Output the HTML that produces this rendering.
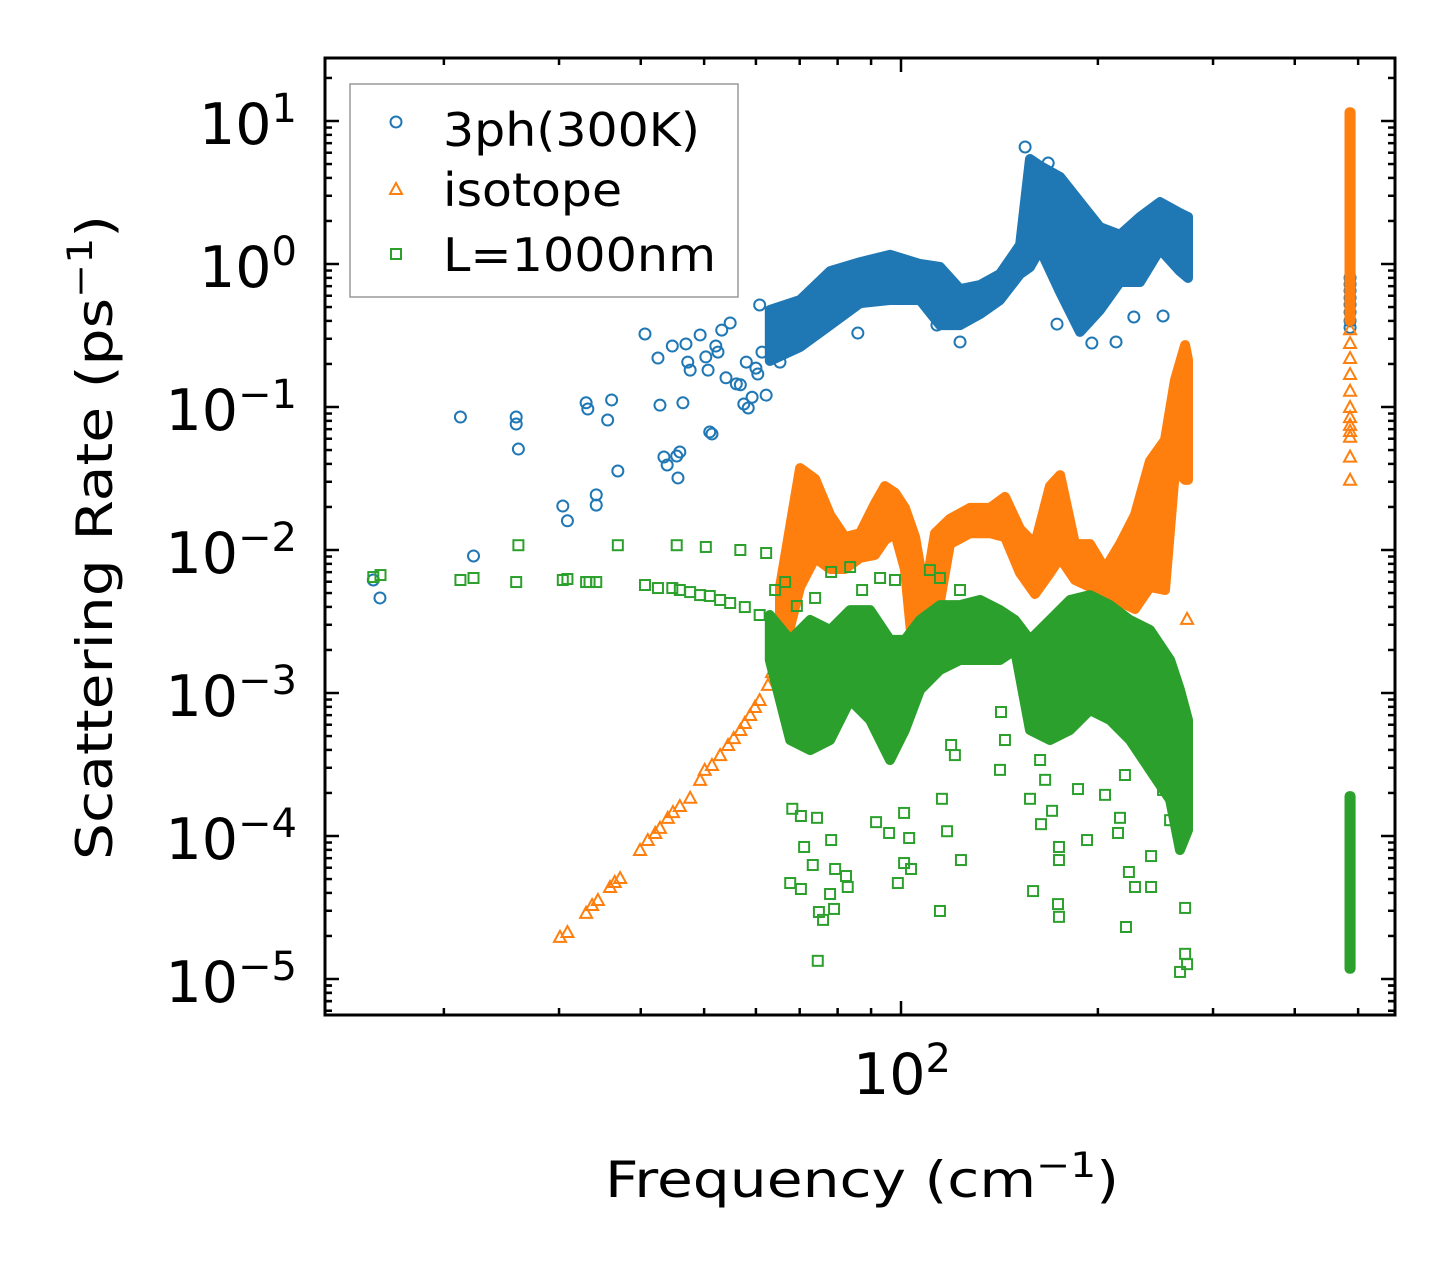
<!DOCTYPE html>
<html><head><meta charset="utf-8"><style>
html,body{margin:0;padding:0;background:#fff}
svg{display:block;font-family:"DejaVu Sans","Liberation Sans",sans-serif}
</style></head><body>
<svg id="chart" width="1455" height="1265" viewBox="0 0 1455 1265" xmlns="http://www.w3.org/2000/svg">
<rect width="1455" height="1265" fill="#fff"/>
<defs><clipPath id="clip"><rect x="325" y="58" width="1070" height="957"/></clipPath></defs>
<g id="plot" clip-path="url(#clip)"></g>
<g id="axes"></g>
<g id="legend">
  <rect x="350" y="84" width="388" height="213" fill="#fff" fill-opacity="0.8" stroke="#999" stroke-width="1.5"/>
  <g>
    <circle cx="396" cy="122" r="5.5" fill="none" stroke="#1f77b4" stroke-width="2"/>
    <text x="443" y="146" font-size="46" textLength="257" lengthAdjust="spacingAndGlyphs">3ph(300K)</text>
  </g>
  <g>
    <polygon points="396,183 402,194 390,194" fill="none" stroke="#ff7f0e" stroke-width="2"/>
    <text x="443" y="206" font-size="46" textLength="179" lengthAdjust="spacingAndGlyphs">isotope</text>
  </g>
  <g>
    <rect x="391" y="249" width="10" height="10" fill="none" stroke="#2ca02c" stroke-width="2"/>
    <text x="443" y="271" font-size="46" textLength="273" lengthAdjust="spacingAndGlyphs">L=1000nm</text>
  </g>
</g>
<text x="605" y="1197" font-size="50" textLength="514" lengthAdjust="spacingAndGlyphs">Frequency (cm<tspan dy="-20" font-size="35">−1</tspan><tspan dy="20">)</tspan></text>
<text transform="translate(112,860) rotate(-90)" font-size="50" textLength="645" lengthAdjust="spacingAndGlyphs">Scattering Rate (ps<tspan dy="-20" font-size="35">−1</tspan><tspan dy="20">)</tspan></text>
</svg>
<script>
// ---- data ----
const blueFreq = [15.6,15.97,21.2,22.2,25.8,25.8,26.0,30.4,30.9,33.0,33.2,34.2,34.2,35.6,36.1,36.9,40.6,42.5,42.8,43.4,43.9,44.7,45.4,45.6,45.9,46.4,46.9,47.2,47.6,49.3,50.3,50.7,51.0,51.4,52.1,52.5,53.2,54.0,54.8,56.0,56.8,57.5,58.0,58.4,59.2,60.0,60.4,61.3,62.2,60.8,65.3,65.3,67.6,70.1,73.1,75.2,78.4,85.9,83.6,89.7,99.7,113.5,114.7,123.1,189.1,195.8,213.2,227.0,173.2,187.8,251.6,154.8,161.4,167.9,486,486,486,486,486,486,486,486];
const blueVal = [0.00617,0.00462,0.0851,0.00908,0.0851,0.076,0.0508,0.0203,0.016,0.107,0.0968,0.0243,0.0206,0.0811,0.112,0.0357,0.324,0.22,0.103,0.0447,0.0393,0.267,0.0454,0.0319,0.0485,0.107,0.276,0.206,0.181,0.319,0.224,0.181,0.0669,0.0648,0.267,0.242,0.345,0.16,0.387,0.145,0.143,0.105,0.206,0.0984,0.117,0.187,0.17,0.242,0.121,0.517,0.206,0.406,0.462,0.28,0.329,0.412,0.508,0.329,0.908,0.658,0.578,0.374,0.419,0.285,0.647,0.28,0.285,0.426,0.38,0.374,0.433,6.58,4.77,5.08,0.8,0.72,0.65,0.58,0.52,0.46,0.4,0.36];
const blueBandFreq = [63.0,70.1,77.9,86.6,96.2,106.9,114.7,123.1,132.1,141.7,152.1,157.5,163.2,175.1,187.8,201.5,216.2,232.0,248.9,267.1,274.7];
const blueBandHi = [0.477,0.56,0.89,1.03,1.16,1.0,0.953,0.668,0.713,0.851,1.36,5.42,4.85,4.06,2.71,1.81,1.6,2.13,2.71,2.27,2.13];
const blueBandLo = [0.21,0.263,0.374,0.533,0.56,0.56,0.374,0.374,0.447,0.56,0.851,0.953,1.27,0.637,0.335,0.477,0.748,0.748,1.27,0.89,0.798];

const orangeFreq = [30.1,30.9,33.0,33.7,34.4,35.9,36.5,37.2,39.9,41.0,42.1,42.8,44.0,44.8,45.9,47.6,49.3,50.1,51.4,52.9,54.4,55.5,56.8,57.7,58.8,59.8,60.8,62.6,63.5,273.8,486,486,486,486,486,486,486,486,486,486,486,486];
const orangeVal = [0.0000197,0.0000213,0.000029,0.0000329,0.0000357,0.000044,0.0000477,0.0000508,0.0000798,0.0000937,0.000105,0.000114,0.000134,0.000147,0.000162,0.000185,0.000247,0.00029,0.000314,0.000368,0.000433,0.000484,0.000551,0.000617,0.000702,0.000798,0.000893,0.00114,0.0014,0.0033,0.35,0.28,0.22,0.17,0.13,0.1,0.085,0.075,0.068,0.062,0.045,0.031];
const orangeBandFreq = [65.3,70.1,73.9,77.9,82.1,86.6,91.2,94.5,97.9,101.4,105.1,108.8,112.7,118.8,127.5,136.8,144.2,152.1,160.3,169.0,175.1,184.5,194.5,205.1,216.2,227.9,240.3,253.3,262.4,271.9,274.7];
const orangeBandHi = [0.00551,0.0374,0.0314,0.0176,0.0123,0.0131,0.021,0.028,0.0251,0.0197,0.0123,0.00492,0.0131,0.0165,0.0197,0.0197,0.0235,0.014,0.011,0.028,0.0334,0.011,0.011,0.00736,0.011,0.0176,0.0419,0.0588,0.1545,0.271,0.213];
const orangeBandLo = [0.00152,0.00551,0.0088,0.00736,0.00736,0.0088,0.00923,0.0117,0.0131,0.00736,0.00136,0.00121,0.00276,0.011,0.0131,0.0131,0.0123,0.0069,0.00492,0.0069,0.0088,0.00617,0.00551,0.00492,0.00433,0.00387,0.00551,0.00525,0.0363,0.0309,0.0309];
const orangeColFreq = [485,487];
const orangeColHi = [11.5,11.5];
const orangeColLo = [0.4,0.4];

const greenFreq = [15.6,16.0,21.2,22.2,25.8,26.0,30.4,30.9,33.0,33.4,34.2,36.9,40.6,42.5,44.7,45.4,45.9,47.6,49.3,50.3,51.0,52.9,56.8,62.2,54.8,57.7,60.8,64.2,66.5,69.3,73.9,78.2,83.6,87.2,92.9,97.9,110.7,114.7,123.1,
68.2,70.3,74.4,71.1,73.3,78.2,79.3,82.4,82.9,67.7,70.3,77.9,74.9,79.0,74.6,76.0,91.6,95.9,101.1,102.9,103.6,98.9,101.1,115.5,117.6,114.7,123.5,142.2,157.5,163.7,170.2,174.4,174.4,159.2,173.8,174.4,192.5,186.5,216.2,214.7,223.1,227.9,220.8,241.2,241.2,271.9,271.9,273.8,267.1,271.9,120.9,119.3,144.2,141.7,166.1,163.2,205.1,220.0,251.6,257.9];
const greenVal = [0.00647,0.00668,0.00617,0.00637,0.00597,0.0108,0.00617,0.00627,0.00597,0.00597,0.00597,0.0108,0.00569,0.00542,0.00542,0.0108,0.00525,0.00508,0.00484,0.0105,0.00477,0.00447,0.01,0.00953,0.00426,0.00399,0.00351,0.00525,0.00597,0.00406,0.00462,0.00702,0.0076,0.00525,0.00637,0.00617,0.00724,0.00637,0.00525,
0.000155,0.000138,0.000134,0.0000838,0.0000627,0.0000937,0.0000588,0.0000525,0.000044,0.0000469,0.0000426,0.0000393,0.0000294,0.0000309,0.0000134,0.0000259,0.000125,0.000105,0.000145,0.0000968,0.0000588,0.0000469,0.0000647,0.000182,0.000108,0.0000299,0.0000679,0.000736,0.000182,0.000121,0.00015,0.0000838,0.0000679,0.0000412,0.0000334,0.0000272,0.0000937,0.000213,0.000134,0.000105,0.000056,0.000044,0.0000231,0.0000724,0.000044,0.0000314,0.000015,0.0000127,0.0000112,0.00011,0.000368,0.000433,0.000469,0.00029,0.000247,0.00034,0.000194,0.000267,0.00021,0.000129];
const greenBandFreq = [63.0,67.7,72.6,77.9,83.6,89.7,96.2,101.4,106.9,114.7,123.1,132.1,141.7,149.4,157.5,169.0,181.3,194.5,208.7,223.9,240.3,257.9,267.1,274.7];
const greenBandHi = [0.00351,0.00235,0.00324,0.00276,0.0038,0.0038,0.00235,0.00235,0.00324,0.00412,0.00412,0.00447,0.0038,0.00324,0.00235,0.00324,0.00447,0.00484,0.00412,0.00324,0.00276,0.0017,0.00105,0.000647];
const greenBandLo = [0.0017,0.000469,0.000399,0.000469,0.000893,0.000647,0.00034,0.000551,0.00105,0.00145,0.0017,0.0017,0.0017,0.002,0.000551,0.000469,0.000551,0.00076,0.000647,0.000469,0.00029,0.000179,0.0000798,0.00011];
const greenColFreq = [485,487];
const greenColHi = [0.00019,0.00019];
const greenColLo = [0.0000118,0.0000118];

const yTickExps = [1,0,-1,-2,-3,-4,-5];
const xMajorTicks = [100];
const xMinorTicks = [20,30,40,50,60,70,80,90,200,300,400,500];

// ---- scales ----
const X0=325,X1=1395,Y0=58,Y1=1015;
function sx(f){return 901+654*Math.log10(f/100);}
function sy(v){return 264-143*Math.log10(v);}
const NS="http://www.w3.org/2000/svg";
function mk(tag,attrs,parent){const e=document.createElementNS(NS,tag);for(const k in attrs)e.setAttribute(k,attrs[k]);parent.appendChild(e);return e;}
const plot=document.getElementById('plot');
const axes=document.getElementById('axes');

function band(fr,hi,lo,color,name){
  const pts=[];
  for(let i=0;i<fr.length;i++)pts.push(sx(fr[i]).toFixed(1)+','+sy(hi[i]).toFixed(1));
  for(let i=fr.length-1;i>=0;i--)pts.push(sx(fr[i]).toFixed(1)+','+sy(lo[i]).toFixed(1));
  const p=mk('polygon',{points:pts.join(' '),fill:color,stroke:color,'stroke-width':10,'stroke-linejoin':'round'},plot);
  
  
}
function markers(fr,vals,kind,color,name){
  const g=mk('g',{fill:'none',stroke:color,'stroke-width':2},plot);
  
  
  for(let i=0;i<fr.length;i++){
    const x=sx(fr[i]),y=sy(vals[i]);
    let m;
    if(kind==='o')m=mk('circle',{cx:x,cy:y,r:5.5},g);
    else if(kind==='^')m=mk('polygon',{points:`${x},${y-6} ${x+6},${y+5} ${x-6},${y+5}`},g);
    else m=mk('rect',{x:x-5,y:y-5,width:10,height:10},g);
    
    
  }
}
band(blueBandFreq,blueBandHi,blueBandLo,'#1f77b4','series-3ph-dense');
markers(blueFreq,blueVal,'o','#1f77b4','series-3ph');
band(orangeBandFreq,orangeBandHi,orangeBandLo,'#ff7f0e','series-isotope-dense');
band(orangeColFreq,orangeColHi,orangeColLo,'#ff7f0e','series-isotope-optical-column');
markers(orangeFreq,orangeVal,'^','#ff7f0e','series-isotope');
band(greenBandFreq,greenBandHi,greenBandLo,'#2ca02c','series-boundary-dense');
band(greenColFreq,greenColHi,greenColLo,'#2ca02c','series-boundary-optical-column');
markers(greenFreq,greenVal,'s','#2ca02c','series-boundary');

// ---- axes ----
const frame=mk('rect',{x:X0,y:Y0,width:X1-X0,height:Y1-Y0,fill:'none',stroke:'#000','stroke-width':3},axes);


function tick(x1,y1,x2,y2){const t=mk('line',{x1,y1,x2,y2,stroke:'#000','stroke-width':2.5},axes);
  
  }
yTickExps.forEach(e=>{
  const y=sy(Math.pow(10,e));
  tick(X0,y,X0+14,y);tick(X1,y,X1-14,y);
  for(let m=2;m<=9;m++){const ym=sy(m*Math.pow(10,e-1));if(ym>Y0&&ym<Y1){tick(X0,ym,X0+7,ym);tick(X1,ym,X1-7,ym);}}
  const t=mk('text',{x:X0-28,y:y+23,'font-size':57,'text-anchor':'end'},axes);
  
  
  t.innerHTML='10<tspan dy="-22" font-size="40">'+(e<0?'−'+(-e):e)+'</tspan>';
});
[20,30].forEach(v=>{const y=sy(v);if(y>Y0){tick(X0,y,X0+7,y);tick(X1,y,X1-7,y);}});
[9e-6,8e-6,7e-6,6e-6].forEach(v=>{const y=sy(v);if(y<Y1){tick(X0,y,X0+7,y);tick(X1,y,X1-7,y);}});
xMajorTicks.forEach(f=>{
  const x=sx(f);tick(x,Y1,x,Y1-14);tick(x,Y0,x,Y0+14);
  const t=mk('text',{x:x+1,y:1094,'font-size':57,'text-anchor':'middle'},axes);
  
  
  t.innerHTML='10<tspan dy="-22" font-size="40">'+Math.round(Math.log10(f))+'</tspan>';
});
xMinorTicks.forEach(f=>{const x=sx(f);tick(x,Y1,x,Y1-7);tick(x,Y0,x,Y0+7);});
</script>
</body></html>
